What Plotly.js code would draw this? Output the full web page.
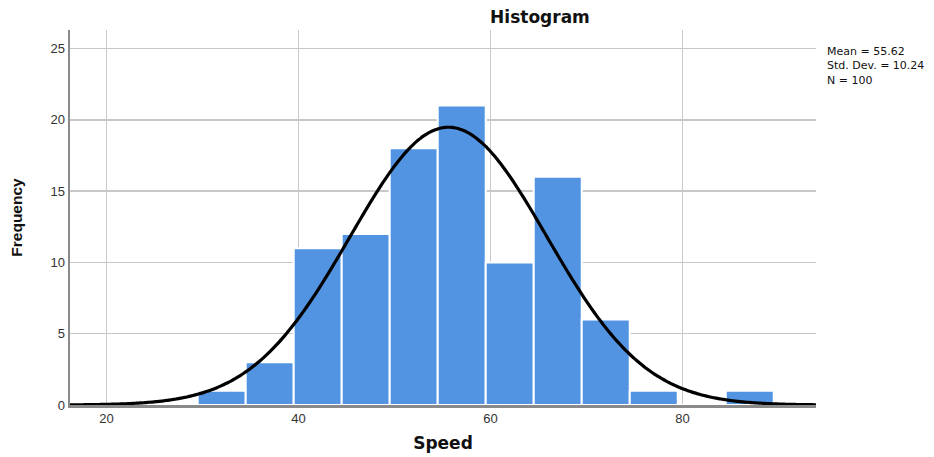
<!DOCTYPE html>
<html><head><meta charset="utf-8">
<script src="https://cdn.plot.ly/plotly-3.0.1.min.js"></script>
<style>body{margin:0;background:#fff}#chart{width:934px;height:457px}</style>
</head><body><div id="chart"></div>
<script>
// Histogram bins (Speed): lower edges and counts
const binStarts = [29.5, 34.5, 39.5, 44.5, 49.5, 54.5, 59.5, 64.5, 69.5, 74.5, 79.5, 84.5];
const counts    = [1, 3, 11, 12, 18, 21, 10, 16, 6, 1, 0, 1];
const binWidth = 5;
// Summary statistics shown on the chart
const MEAN = 55.62, SD = 10.24, N = 100;
const xTicks = [20, 40, 60, 80];
const yTicks = [0, 5, 10, 15, 20, 25];
const statsLines = ['Mean = 55.62', 'Std. Dev. = 10.24', 'N = 100'];

const centers = binStarts.map(s => s + binWidth / 2);

// Fitted normal curve from the displayed mean / SD / N
const curveX = [], curveY = [];
for (let x = 16; x <= 94.001; x += 0.25) {
  curveX.push(x);
  curveY.push(N * binWidth / (SD * Math.sqrt(2 * Math.PI)) * Math.exp(-0.5 * Math.pow((x - MEAN) / SD, 2)));
}

const traces = [
  {type: 'bar', x: centers, y: counts, width: binWidth,
   marker: {color: '#5294e2', line: {color: '#ffffff', width: 2}}, hoverinfo: 'x+y'},
  {type: 'scatter', mode: 'lines', x: curveX, y: curveY,
   line: {color: '#000000', width: 3.2, shape: 'spline'}}
];

const layout = {
  width: 934, height: 457,
  margin: {l: 70, r: 118, t: 30, b: 52},
  paper_bgcolor: '#ffffff', plot_bgcolor: '#ffffff',
  showlegend: false,
  font: {family: 'Liberation Sans, Arial, sans-serif', color: '#333'},
  title: {text: '<b>Histogram</b>', x: 0.63, xref: 'paper', xanchor: 'center',
          y: 0.962, yref: 'container', yanchor: 'middle',
          font: {family: 'DejaVu Sans, sans-serif', size: 17, color: '#111'}},
  xaxis: {range: [16.2, 93.9], tickvals: xTicks, ticks: '',
          showgrid: true, gridcolor: '#c8c8c8', gridwidth: 1.5,
          showline: true, linecolor: '#8a8a8a', linewidth: 2.5,
          zeroline: false, tickfont: {size: 13, color: '#333'},
          title: {text: '<b>Speed</b>', font: {family: 'DejaVu Sans, sans-serif', size: 17, color: '#111'}, standoff: 12}},
  yaxis: {range: [0, 26.3], tickvals: yTicks, ticks: '',
          showgrid: true, gridcolor: '#c8c8c8', gridwidth: 1.5,
          showline: true, linecolor: '#8a8a8a', linewidth: 2.5,
          zeroline: false, tickfont: {size: 13, color: '#333'},
          title: {text: '<b>Frequency</b>', font: {size: 15.5, color: '#111'}, standoff: 24}},
  annotations: [{
    xref: 'paper', yref: 'paper', x: 1.012, y: 0.905, xanchor: 'left', yanchor: 'middle',
    align: 'left', showarrow: false, text: statsLines.join('<br>'),
    font: {family: 'DejaVu Sans, sans-serif', size: 11, color: '#111'}
  }]
};

Plotly.newPlot('chart', traces, layout, {displayModeBar: false, staticPlot: true});
</script>
</body></html>
